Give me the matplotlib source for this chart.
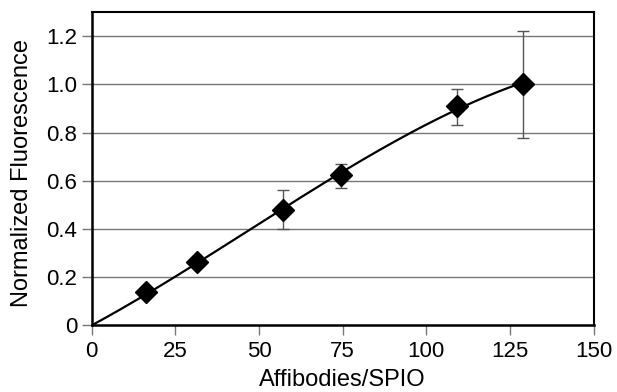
import numpy as np
import matplotlib
matplotlib.use("Agg")
import matplotlib.pyplot as plt

plt.rcParams['font.family'] = ['Liberation Sans', 'DejaVu Sans']

# Data
ratio = [16.2, 31.6, 57.2, 74.4, 109.1, 129.0]
fluor = [0.139, 0.264, 0.478, 0.623, 0.912, 1.001]
err_low = [0.0, 0.0, 0.080, 0.051, 0.079, 0.224]
err_high = [0.0, 0.0, 0.082, 0.045, 0.071, 0.220]

x_ticks = [0, 25, 50, 75, 100, 125, 150]
y_ticks = [0, 0.2, 0.4, 0.6, 0.8, 1.0, 1.2]
y_tick_labels = ['0', '0.2', '0.4', '0.6', '0.8', '1.0', '1.2']

# Trend line: least-squares cubic through the origin
xa = np.array(ratio)
ya = np.array(fluor)
A = np.vstack([xa, xa**2, xa**3]).T
coef, *_ = np.linalg.lstsq(A, ya, rcond=None)
xs = np.linspace(0, max(ratio), 200)
ys = coef[0]*xs + coef[1]*xs**2 + coef[2]*xs**3

fig = plt.figure(figsize=(6.17, 3.92), dpi=100)
ax = fig.add_axes([0.1486, 0.170, 0.9622-0.1486, 0.969-0.170])

for yv in y_ticks[1:]:
    ax.axhline(yv, color='#777777', lw=1.0, zorder=1)

ax.plot(xs, ys, color='black', lw=1.6, zorder=3)
ax.errorbar(ratio, fluor, yerr=[err_low, err_high], fmt='none', ecolor='#555555',
            elinewidth=1.0, capsize=4.5, capthick=1.0, zorder=2)
ax.plot(ratio, fluor, linestyle='none', marker='D', markersize=11.5,
        color='black', zorder=4)

ax.set_xlim(0, 150)
ax.set_ylim(0, 1.3)
ax.set_xticks(x_ticks)
ax.set_yticks(y_ticks)
ax.set_yticklabels(y_tick_labels)
ax.tick_params(axis='y', direction='out', length=7.5, width=1.0, color='#777777',
               labelsize=16, pad=3)
ax.tick_params(axis='x', direction='out', length=7.5, width=1.0, color='#777777',
               labelsize=16, pad=4)

for s in ['left', 'bottom']:
    ax.spines[s].set_linewidth(1.8)
for s in ['top', 'right']:
    ax.spines[s].set_linewidth(1.5)

ax.set_xlabel('Affibodies/SPIO', fontsize=17)
ax.set_ylabel('Normalized Fluorescence', fontsize=17)
ax.xaxis.set_label_coords(0.5, -0.138)
ax.yaxis.set_label_coords(-0.117, 0.488)

fig.savefig('out.png', dpi=100)
